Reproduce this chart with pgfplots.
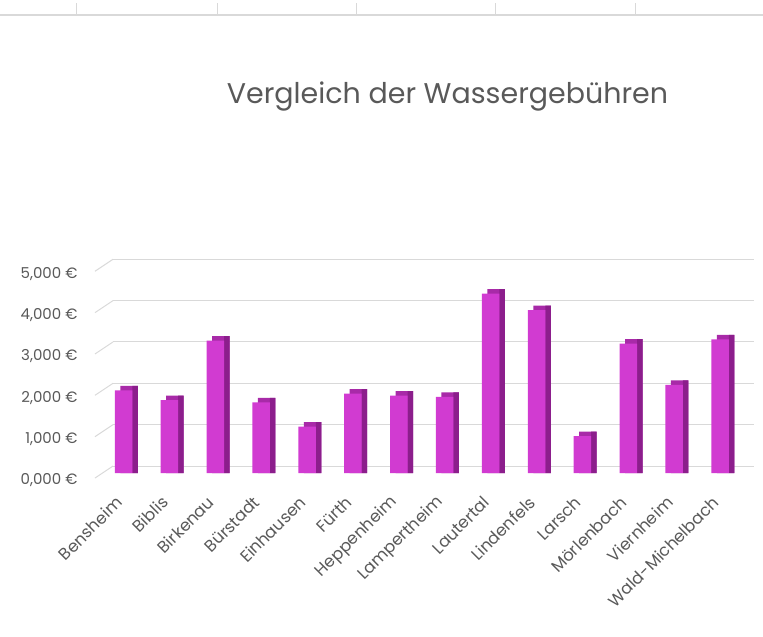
\documentclass[border=0pt]{standalone}
\usepackage{fontspec}
\setmainfont{Poppins}
\usepackage{pgfplots}
\usepackage{pgfplotstable}
\pgfplotsset{compat=1.18}
\definecolor{front}{HTML}{D13BD1}
\definecolor{side}{HTML}{8C1E8C}
\definecolor{topf}{HTML}{A82AA8}
\definecolor{txt}{HTML}{595959}
\definecolor{grd}{HTML}{D9D9D9}
\pgfplotstableread{
x v
0 2.00
1 1.76
2 3.20
3 1.71
4 1.12
5 1.92
6 1.87
7 1.84
8 4.34
9 3.94
10 0.89
11 3.13
12 2.13
13 3.23
}\data
\begin{document}
\begin{tikzpicture}
\useasboundingbox (0,0) rectangle (763pt,-637pt);
% spreadsheet strip
\draw[grd, line width=1.5pt] (0,-15pt) -- (763pt,-15pt);
\foreach \xx in {76,217,356,495,635} \draw[grd, line width=1pt] (\xx pt,-3pt) -- (\xx pt,-15pt);
\node[anchor=base, text=txt, font=\fontsize{28.5}{32}\selectfont] at (447.5pt,-103pt) {Vergleich der Wassergebühren};
\begin{axis}[
  at={(113pt,-473pt)}, anchor=south west,
  scale only axis, width=641pt, height=214pt,
  xmin=-0.23, xmax=13.74, ymin=0, ymax=5.175,
  clip=false,
  axis line style={draw=none},
  tick style={draw=none},
  ymajorgrids, grid style={grd, line width=1pt},
  ytick={0.169,1.169,2.169,3.169,4.169,5.169},
  yticklabels={{0,000 €},{1,000 €},{2,000 €},{3,000 €},{4,000 €},{5,000 €}},
  yticklabel style={anchor=east, xshift=-32pt, yshift=-14.5pt, text=txt, font=\fontsize{15}{17}\selectfont},
  xtick=data,
  xticklabels={Bensheim,Biblis,Birkenau,Bürstadt,Einhausen,Fürth,Heppenheim,Lampertheim,Lautertal,Lindenfels,Larsch,Mörlenbach,Viernheim,Wald-Michelbach},
  xticklabel style={yshift=-24pt, xshift=-2pt, rotate=45, anchor=east, text=txt, font=\fontsize{16.5}{18}\selectfont},
]
\pgfplotsinvokeforeach{0.169,1.169,2.169,3.169,4.169,5.169}{
  \draw[grd, line width=1pt] (axis cs:-0.23,#1) -- ++(-18pt,-12pt);
}
\addplot[ybar, bar width=17.5pt, bar shift=5.5pt, fill=topf, draw=none]
  table[x=x, y expr=\thisrow{v}+0.109] {\data};
\addplot[ybar, bar width=5.5pt, bar shift=11.5pt, fill=side, draw=none]
  table[x=x, y expr=\thisrow{v}+0.109] {\data};
\addplot[ybar, bar width=17.5pt, bar shift=0pt, fill=front, draw=none]
  table[x=x, y=v] {\data};
\end{axis}
\end{tikzpicture}
\end{document}
